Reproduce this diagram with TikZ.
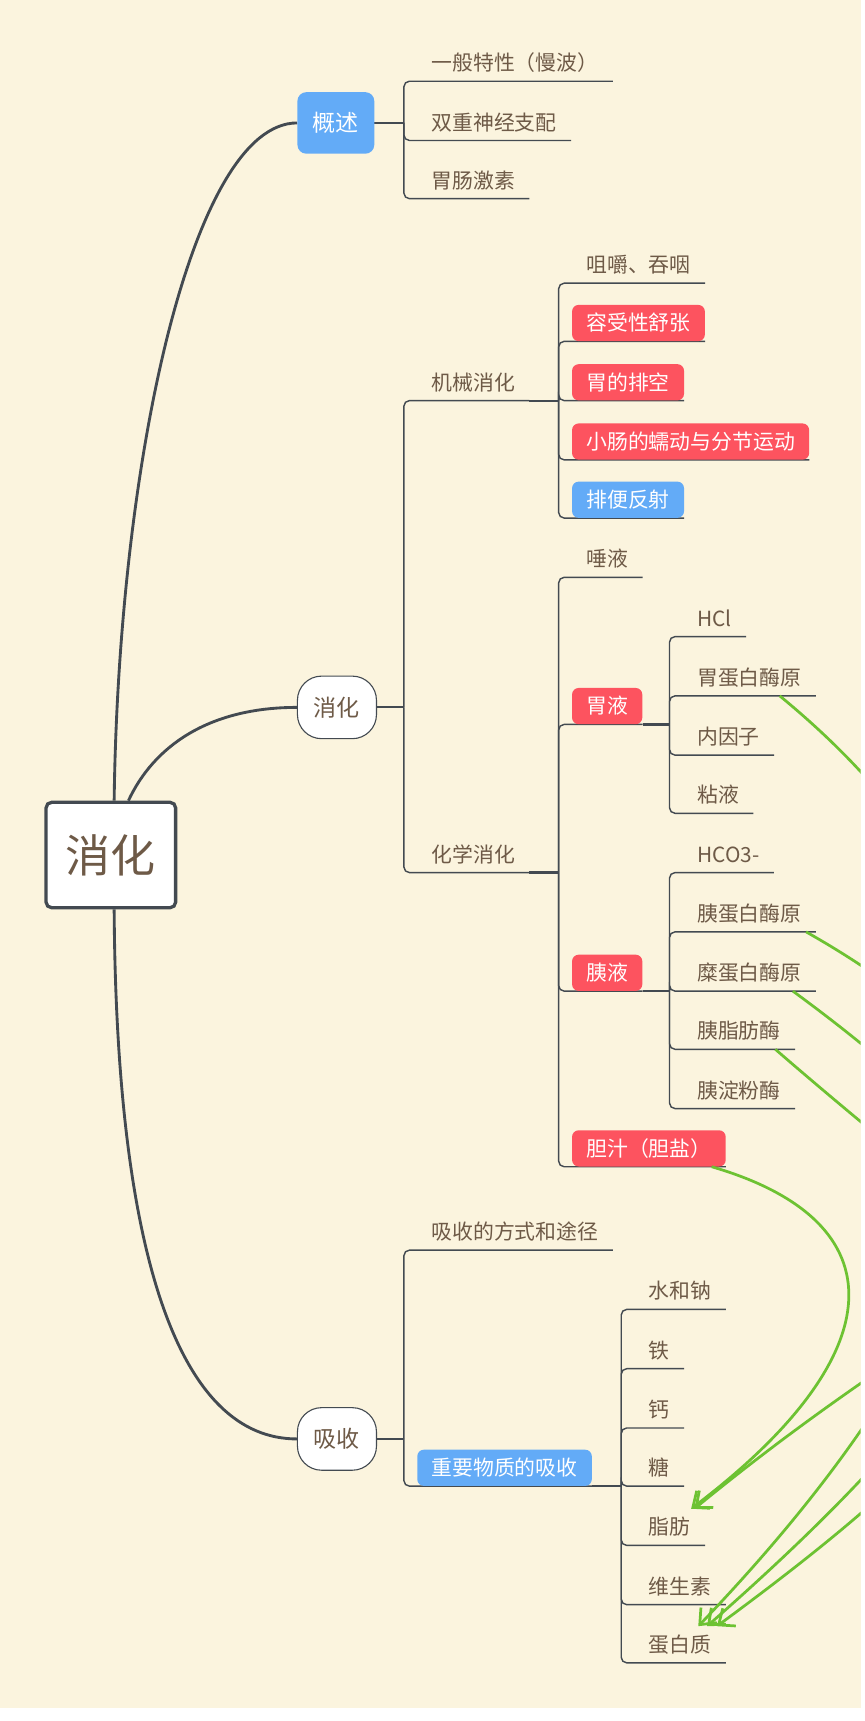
\documentclass[tikz,border=0pt]{standalone}
\usepackage{fontspec}
\newfontfamily\cjk{Noto Sans CJK SC}
\usepackage{xcolor}
\usepackage{tikz}
\usetikzlibrary{arrows.meta}
\definecolor{mapCream}{HTML}{FBF4DE}
\definecolor{mapInk}{HTML}{434A51}
\definecolor{mapText}{HTML}{6E5A47}
\definecolor{mapBlue}{HTML}{63ABF7}
\definecolor{mapRed}{HTML}{FD535F}
\definecolor{mapGreen}{HTML}{6DC232}
\pgfdeclarelayer{back}
\pgfdeclarelayer{wires}
\pgfsetlayers{back,wires,main}

\begin{document}
\begin{tikzpicture}[
      x=1pt, y=-1pt,
      topic/.style={font=\cjk\fontsize{19}{22}\selectfont, text=mapText,
                    anchor=south west, inner xsep=13pt, inner ysep=0pt,
                    minimum height=33pt, text height=16.7pt, text depth=2.3pt},
      hot/.style={topic, fill=mapRed, text=white, rounded corners=6pt},
      cool/.style={topic, fill=mapBlue, text=white, rounded corners=6pt},
      root/.style={font=\cjk\fontsize{41}{46}\selectfont, text=mapText, fill=white,
                   draw=mapInk, line width=3pt, rounded corners=5pt,
                   minimum width=118pt, minimum height=96pt},
      bubble/.style={font=\cjk\fontsize{21}{24}\selectfont, text=mapText, fill=white,
                     draw=mapInk, line width=1pt, rounded corners=22pt, inner sep=0pt,
                     minimum width=72pt, minimum height=57pt},
      lead/.style={font=\cjk\fontsize{21}{24}\selectfont, text=white, fill=mapBlue,
                   rounded corners=8pt, inner sep=0pt,
                   minimum width=70pt, minimum height=56pt},
      trunk/.style={draw=mapInk, line width=2.6pt},
      link/.style={draw=mapInk, line width=2pt},
      branch/.style={draw=mapInk, line width=1.3pt, rounded corners=5pt},
      rel/.style={draw=mapGreen, line width=2.5pt,
                  -{Straight Barb[length=12pt,width=20pt]}}
    ]
    \useasboundingbox (0,0) rectangle (788,1568);
    \begin{pgfonlayer}{back}
      \fill[white] (0,0) rectangle (788,1568);
      \fill[mapCream] (0,0) rectangle (784,1556);
    \end{pgfonlayer}

    \node[root] (root) at (101,779) {消化};
    \node[lead] (gaishu) at (306,112) {概述};
    \node[bubble] (xiaohua) at (307,644.5) {消化};
    \node[bubble] (xishou) at (307,1311) {吸收};

    \node[topic] (ybtx) at (380,74) {一般特性（慢波）};
    \node[topic] (sczj) at (380,128) {双重神经支配};
    \node[topic] (wcjs) at (380,181) {胃肠激素};

    \node[topic] (jixie) at (380,365) {机械消化};
    \node[topic] (jujue) at (521,258) {咀嚼、吞咽};
    \node[hot] (rongshou) at (521,311) {容受性舒张};
    \node[hot] (paikong) at (521,365) {胃的排空};
    \node[hot] (rudong) at (521,419) {小肠的蠕动与分节运动};
    \node[cool] (paibian) at (521,472) {排便反射};

    \node[topic] (huaxue) at (380,795) {化学消化};
    \node[topic] (tuoye) at (521,526) {唾液};
    \node[hot] (weiye) at (521,660) {胃液};
    \node[topic] (hcl) at (622,580) {HCl};
    \node[topic] (wdb) at (622,634) {胃蛋白酶原};
    \node[topic] (nyz) at (622,688) {内因子};
    \node[topic] (zy) at (622,741) {粘液};
    \node[hot] (yiye) at (521,903) {胰液};
    \node[topic] (hco) at (622,795) {HCO3-};
    \node[topic] (ydb) at (622,849) {胰蛋白酶原};
    \node[topic] (mdb) at (622,903) {糜蛋白酶原};
    \node[topic] (yzf) at (622,956) {胰脂肪酶};
    \node[topic] (ydf) at (622,1010) {胰淀粉酶};
    \node[hot] (danzhi) at (521,1063) {胆汁（胆盐）};

    \node[topic] (fangshi) at (380,1139) {吸收的方式和途径};
    \node[cool] (zhongyao) at (380,1354) {重要物质的吸收};
    \node[topic] (shui) at (578,1193) {水和钠};
    \node[topic] (tie) at (578,1247) {铁};
    \node[topic] (gai) at (578,1301) {钙};
    \node[topic] (tang) at (578,1354) {糖};
    \node[topic] (zf) at (578,1408) {脂肪};
    \node[topic] (wss) at (578,1462) {维生素};
    \node[topic] (dbz) at (578,1515) {蛋白质};

    \begin{pgfonlayer}{wires}
      \draw[trunk] ([xshift=3pt]root.north) .. controls (108,420) and (175,112) .. (gaishu.west);
      \draw[trunk] ([xshift=16pt]root.north) .. controls (140,680) and (190,644.5) .. (xiaohua.west);
      \draw[trunk] ([xshift=3pt]root.south) .. controls (106,1150) and (165,1311) .. (xishou.west);

      \coordinate (gaishu-j) at (368,112);
      \coordinate (xiaohua-j) at (368,644.5);
      \coordinate (xishou-j) at (368,1311);
      \coordinate (jixie-j) at (509,365);
      \coordinate (huaxue-j) at (509,795);
      \coordinate (weiye-j) at (610,660);
      \coordinate (yiye-j) at (610,903);
      \coordinate (zhongyao-j) at (566,1354);

      \draw[link] (gaishu.east) -- (gaishu-j);
      \draw[link] (xiaohua.east) -- (xiaohua-j);
      \draw[link] (xishou.east) -- (xishou-j);
      \draw[link] (jixie.south east) -- (jixie-j);
      \draw[link] (huaxue.south east) -- (huaxue-j);
      \draw[link] (weiye.south east) -- (weiye-j);
      \draw[link] (yiye.south east) -- (yiye-j);
      \draw[link] (zhongyao.south east) -- (zhongyao-j);

      \foreach \kid in {ybtx,sczj,wcjs} \draw[branch] (gaishu-j) |- (\kid.south east);
      \foreach \kid in {jixie,huaxue} \draw[branch] (xiaohua-j) |- (\kid.south east);
      \foreach \kid in {fangshi,zhongyao} \draw[branch] (xishou-j) |- (\kid.south east);
      \foreach \kid in {jujue,rongshou,paikong,rudong,paibian} \draw[branch] (jixie-j) |- (\kid.south east);
      \foreach \kid in {tuoye,weiye,yiye,danzhi} \draw[branch] (huaxue-j) |- (\kid.south east);
      \foreach \kid in {hcl,wdb,nyz,zy} \draw[branch] (weiye-j) |- (\kid.south east);
      \foreach \kid in {hco,ydb,mdb,yzf,ydf} \draw[branch] (yiye-j) |- (\kid.south east);
      \foreach \kid in {shui,tie,gai,tang,zf,wss,dbz} \draw[branch] (zhongyao-j) |- (\kid.south east);
    \end{pgfonlayer}

    \begin{scope}
      \clip (0,0) rectangle (784,1556);
      \draw[rel] ([xshift=-33pt]wdb.south east) .. controls +(280,230) and +(330,-345) .. ([xshift=16.5pt]dbz.north);
      \draw[rel] ([xshift=-9pt]ydb.south east) .. controls +(300,170) and +(330,-290) .. ([xshift=24.5pt]dbz.north);
      \draw[rel] ([xshift=-21pt]mdb.south east) .. controls +(300,220) and +(340,-250) .. ([xshift=33.5pt]dbz.north);
      \draw[rel] ([xshift=-18pt]yzf.south east) .. controls +(300,260) and +(330,-270) .. ([xshift=22.5pt]zf.north);
      \draw[rel] ([xshift=-13pt]danzhi.south east) .. controls +(172,50) and +(185,-140) .. ([xshift=19.5pt]zf.north);
    \end{scope}
  \end{tikzpicture}
\end{document}
